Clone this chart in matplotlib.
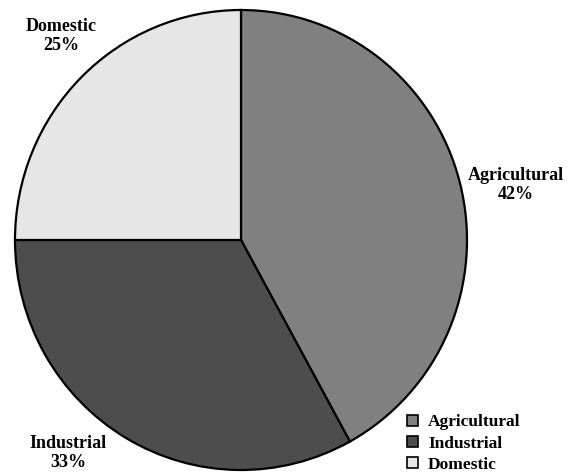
import numpy as np
import matplotlib.pyplot as plt
from matplotlib.patches import Patch

plt.rcParams['font.family'] = ['Liberation Serif', 'DejaVu Serif']
plt.rcParams['font.weight'] = 'bold'

labels = ['Agricultural', 'Industrial', 'Domestic']
shares = [42, 33, 25]
colors = ['#808080', '#4d4d4d', '#e6e6e6']


def main():
    fig = plt.figure(figsize=(5.68, 4.74), dpi=100)
    # pie is slightly taller than wide in the reference
    ax = fig.add_axes([15 / 568, 4 / 474, 452 / 568, 460 / 474])

    ax.pie(shares, colors=colors, startangle=90, counterclock=False,
           radius=1.0, wedgeprops=dict(edgecolor='black', linewidth=1.6))
    ax.set_xlim(-1.0, 1.0)
    ax.set_ylim(-1.0, 1.0)
    ax.set_aspect('auto')
    ax.axis('off')

    # label positions (data coords)
    label_pos = [(1.217, 0.241), (-0.765, -0.928), (-0.796, 0.889)]
    for lab, val, (lx, ly) in zip(labels, shares, label_pos):
        ax.text(lx, ly, f'{lab}\n{val}%', ha='center', va='center',
                fontsize=13, fontweight='bold', linespacing=1.15,
                clip_on=False)

    handles = [Patch(facecolor=c, edgecolor='black', linewidth=1.2) for c in colors]
    fig.legend(handles, labels, loc='lower left',
               bbox_to_anchor=(395 / 568, -0.023), frameon=False,
               fontsize=12.5, handlelength=0.6, handleheight=0.6,
               handletextpad=0.6, labelspacing=0.3, borderpad=0.2)

    plt.savefig('out.png', dpi=100)


if __name__ == '__main__':
    main()
